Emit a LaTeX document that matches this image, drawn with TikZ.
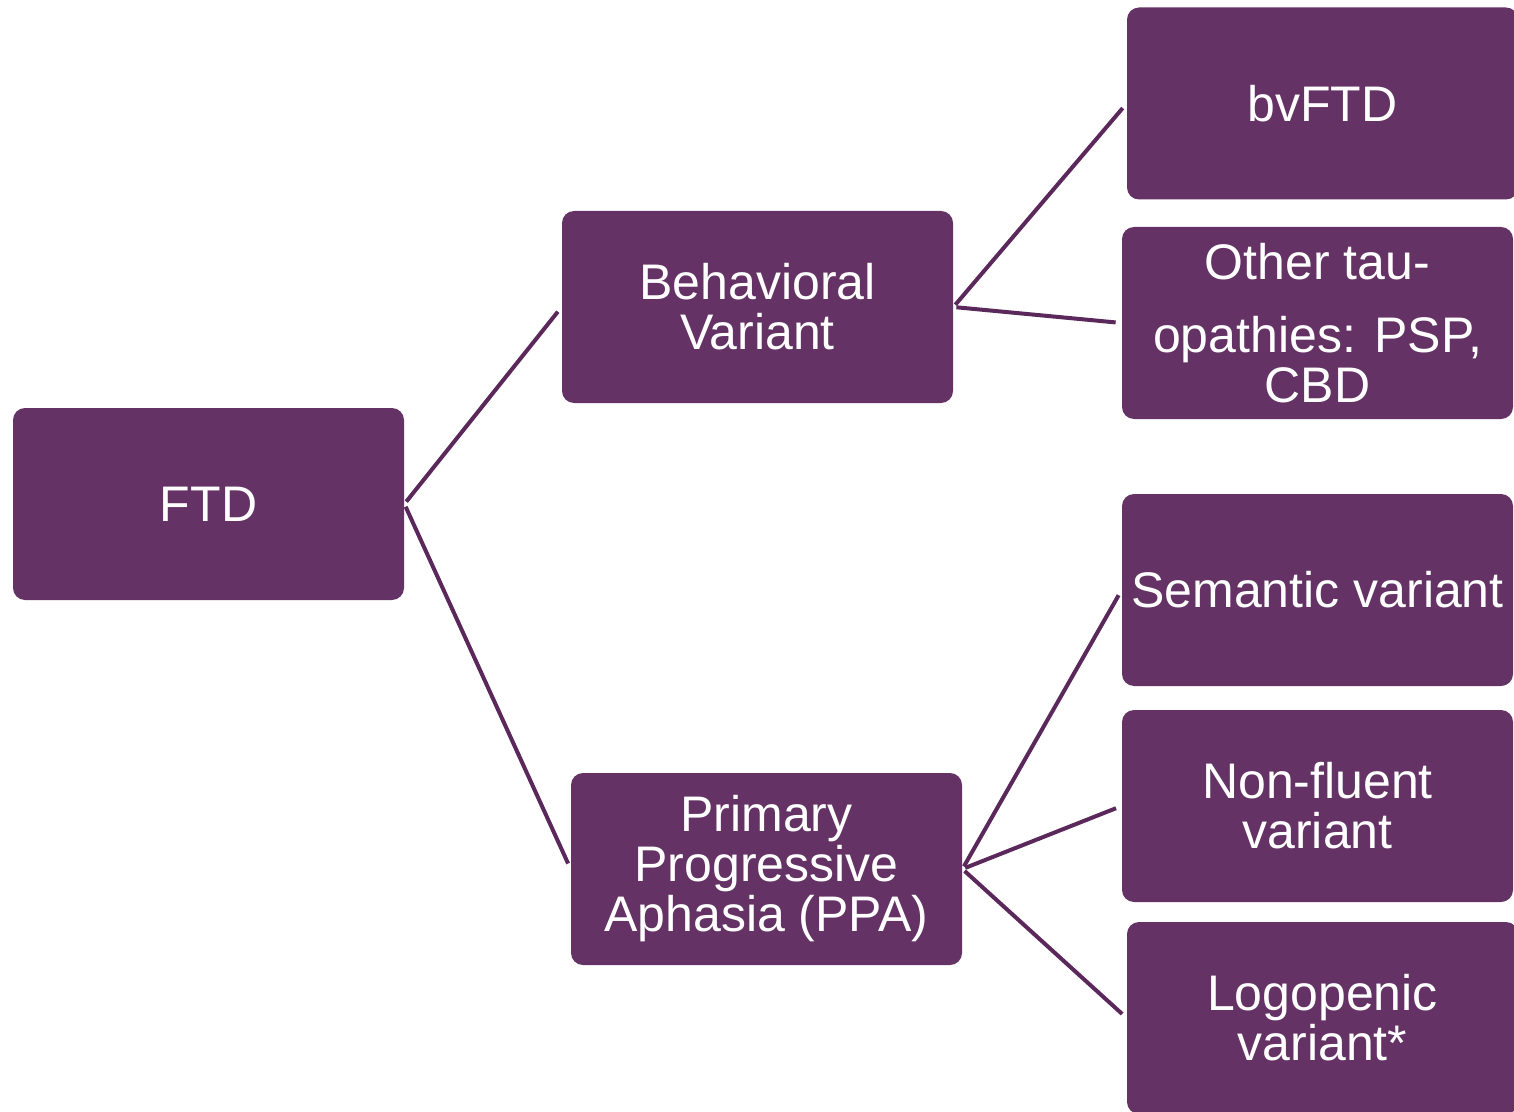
\documentclass[tikz,border=0pt]{standalone}
\usepackage{fontspec}
\setmainfont{Liberation Sans}
\definecolor{boxpurple}{RGB}{100,50,100}
\definecolor{linepurple}{RGB}{90,40,90}
\begin{document}
\begin{tikzpicture}[x=0.5pt,y=-0.5pt,every node/.style={rectangle,rounded corners=6pt,fill=boxpurple,text=white,minimum width=195.5pt,minimum height=96pt,inner sep=0pt,align=center,font=\fontsize{25}{25}\selectfont}]
    \useasboundingbox (0,0) rectangle (1514,1112);
    \node (ftd)   at (208.5,504)   {FTD};
    \node (bv)    at (757.5,307)   {Behavioral\\Variant};
    \node (ppa)   at (766.5,869)   {Primary\\Progressive\\Aphasia (PPA)};
    \node (bvftd) at (1322.5,103.5) {bvFTD};
    \node (tau)   at (1317.5,323)  {Other tau-\\[11.5pt]opathies: PSP,\\CBD};
    \node (sem)   at (1317.5,590)  {Semantic variant};
    \node (nf)    at (1317.5,806)  {Non-fluent\\variant};
    \node (logo)  at (1322.5,1018) {Logopenic\\variant*};

    \foreach \from/\to in
      {ftd/bv,ftd/ppa,bv/bvftd,bv/tau,ppa/sem,ppa/nf,ppa/logo}
    \draw[linepurple,line width=2pt,shorten <=1.5pt,shorten >=3pt] (\from.east) -- (\to.west);
  \end{tikzpicture}
\end{document}
